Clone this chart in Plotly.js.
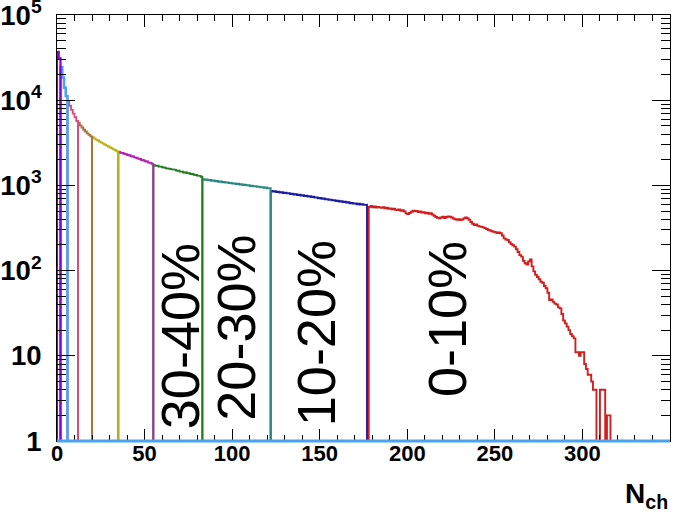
<!DOCTYPE html>
<html>
<head>
<meta charset="utf-8">
<script src="https://cdn.plot.ly/plotly-3.0.1.min.js"></script>
<style>html,body{margin:0;padding:0;background:#fff;}#chart{width:679px;height:516px;}</style>
</head>
<body>
<div id="chart"></div>
<script>
// Bin width 1 in N_ch; each array holds the counts of consecutive bins from its start.
const startPurple = 0;
const countsPurple = [37000, 31000];
const startLightBlue = 2;
const countsLightBlue = [24500, 18500, 14000, 11200];
const startPink = 6;
const countsPink = [9600, 8600, 7700, 6950, 6300, 5700];
const startBrown = 12;
const countsBrown = [5400, 5050, 4780, 4500, 4300, 4080, 3920, 3760];
const startOlive = 20;
const countsOlive = [3680, 3560, 3450, 3360, 3260, 3180, 3090, 3010, 2930, 2860, 2790, 2720, 2650, 2590, 2520];
const startMagenta = 35;
const countsMagenta = [2470, 2420, 2400, 2350, 2330, 2270, 2260, 2200, 2180, 2130, 2110, 2060, 2040, 1990, 1970, 1920, 1910, 1850, 1840, 1790];
const startGreen = 55;
const countsGreen = [1730, 1700, 1705, 1665, 1660, 1630, 1620, 1590, 1590, 1560, 1550, 1520, 1525, 1490, 1485, 1455, 1450, 1420, 1425, 1395, 1390, 1360, 1360, 1330, 1325, 1300, 1295, 1265];
const startTeal = 83;
const countsTeal = [1180, 1165, 1175, 1150, 1155, 1135, 1140, 1120, 1130, 1105, 1110, 1090, 1100, 1080, 1085, 1065, 1070, 1050, 1055, 1040, 1045, 1025, 1030, 1010, 1020, 1000, 1005, 985, 995, 975, 980, 960, 965, 950, 955, 935, 945, 925, 930];
const startNavy = 122;
const countsNavy = [860, 848, 855, 838, 842, 826, 832, 815, 820, 806, 810, 792, 798, 781, 788, 770, 776, 760, 765, 750, 756, 738, 745, 728, 735, 718, 722, 706, 712, 696, 702, 686, 690, 676, 680, 668, 672, 656, 662, 646, 652, 638, 642, 628, 634, 618, 624, 612, 616, 602, 608, 596, 600, 590, 592];
const startRed = 178;
const countsRed = [
  560, 575, 555, 565, 548, 560, 552, 545,
  556, 540, 548, 530, 538, 525, 532, 518,
  514, 522, 505, 510, 495, 470, 462, 475,
  490, 505, 498, 502, 488, 495, 480, 486,
  470, 478, 465, 472, 455, 440, 425, 418,
  411, 420, 430, 415, 425, 432, 428, 420,
  408, 400, 395, 402, 393, 398, 410, 420,
  411, 395, 372, 355, 343, 348, 335, 330,
  326, 322, 315, 308, 300, 296, 290, 286,
  282, 276, 280, 274, 258, 239, 232, 229,
  215, 205, 198, 191, 178, 165, 152, 146,
  130, 122, 118, 128, 135, 112, 98, 89,
  84, 79, 74, 72, 66, 62, 55, 45,
  46, 43, 41, 40, 37, 36, 31, 26,
  24, 22, 20, 18, 17, 16, 11, 11,
  10, 11, 11, 8, 7, 6, 6, 5,
  4, 4, 0, 0, 4, 4, 4, 0, 2, 2
];
const centralityLabels = ["30-40%", "20-30%", "10-20%", "0-10%"];
const xTickVals = [0, 50, 100, 150, 200, 250, 300];
const xTitle = "N<sub>ch</sub>";

const FLOOR = 1; // axis minimum: empty bins are drawn on the frame, as ROOT does

function stepTrace(start, counts, color, width) {
  const xs = [start], ys = [FLOOR];
  counts.forEach((c, i) => {
    const v = Math.max(c, FLOOR);
    xs.push(start + i, start + i + 1);
    ys.push(v, v);
  });
  xs.push(start + counts.length);
  ys.push(FLOOR);
  return {x: xs, y: ys, type: 'scatter', mode: 'lines',
          line: {color: color, width: width, shape: 'linear'},
          hoverinfo: 'skip', showlegend: false};
}

const traces = [
  stepTrace(startRed, countsRed, '#d41e1e', 1.9),
  stepTrace(startNavy, countsNavy, '#1c1ca6', 1.9),
  stepTrace(startTeal, countsTeal, '#2a8a82', 1.9),
  stepTrace(startGreen, countsGreen, '#1f7d1f', 1.9),
  stepTrace(startMagenta, countsMagenta, '#b41fb4', 1.9),
  stepTrace(startOlive, countsOlive, '#b9b31c', 1.9),
  stepTrace(startBrown, countsBrown, '#a8733e', 1.9),
  stepTrace(startPink, countsPink, '#e04a7c', 1.9),
  stepTrace(startLightBlue, countsLightBlue, '#4aa3f2', 2.6),
  stepTrace(startPurple, countsPurple, '#8a00d4', 2.2)
];

const tickFont = {family: 'Liberation Sans, Arial, sans-serif', size: 22, color: '#000', weight: 'bold'};

const labelPos = [[70.3, 1.232], [102, 1.326], [148, 1.268], [222.7, 1.432]];
const annotations = centralityLabels.map((t, i) => ({
  text: t, x: labelPos[i][0], y: labelPos[i][1], xref: 'x', yref: 'y',
  textangle: -90, showarrow: false, xanchor: 'center', yanchor: 'middle',
  font: {family: 'Liberation Sans, Arial, sans-serif', size: 54, color: '#000'}
}));
annotations.push({
  text: xTitle, xref: 'paper', yref: 'paper', x: 1.0, y: -0.128,
  xanchor: 'right', yanchor: 'middle', showarrow: false,
  font: {family: 'Liberation Sans, Arial, sans-serif', size: 28, color: '#000', weight: 'bold'}
});

const layout = {
  width: 679, height: 516,
  margin: {l: 57, r: 9, t: 15, b: 75, pad: 0},
  paper_bgcolor: '#fff', plot_bgcolor: '#fff',
  showlegend: false,
  xaxis: {
    range: [0, 350], tickmode: 'array', tickvals: xTickVals,
    ticks: 'inside', ticklen: 12, tickwidth: 1, tickcolor: '#000',
    showline: true, linecolor: '#000', linewidth: 1, mirror: 'allticks',
    showgrid: false, zeroline: false, tickfont: tickFont, ticklabelstandoff: -7,
    ticklabeloverflow: 'allow',
    minor: {dtick: 10, ticks: 'inside', ticklen: 6, tickwidth: 1, tickcolor: '#000', showgrid: false}
  },
  yaxis: {
    type: 'log', range: [0, 5], dtick: 1, exponentformat: 'power',
    ticks: 'inside', ticklen: 18, tickwidth: 1, tickcolor: '#000',
    showline: true, linecolor: '#000', linewidth: 1, mirror: 'allticks',
    showgrid: false, zeroline: false, tickfont: tickFont, ticklabelstandoff: 10,
    ticklabeloverflow: 'allow',
    minor: {dtick: 'D1', ticks: 'inside', ticklen: 9, tickwidth: 1, tickcolor: '#000', showgrid: false}
  },
  shapes: [{
    type: 'line', xref: 'paper', yref: 'paper', x0: 0, x1: 1, y0: 0, y1: 0,
    line: {color: '#4aa3f2', width: 3}, layer: 'above'
  }],
  annotations: annotations
};

Plotly.newPlot('chart', traces, layout, {staticPlot: true, displayModeBar: false});
</script>
</body>
</html>
